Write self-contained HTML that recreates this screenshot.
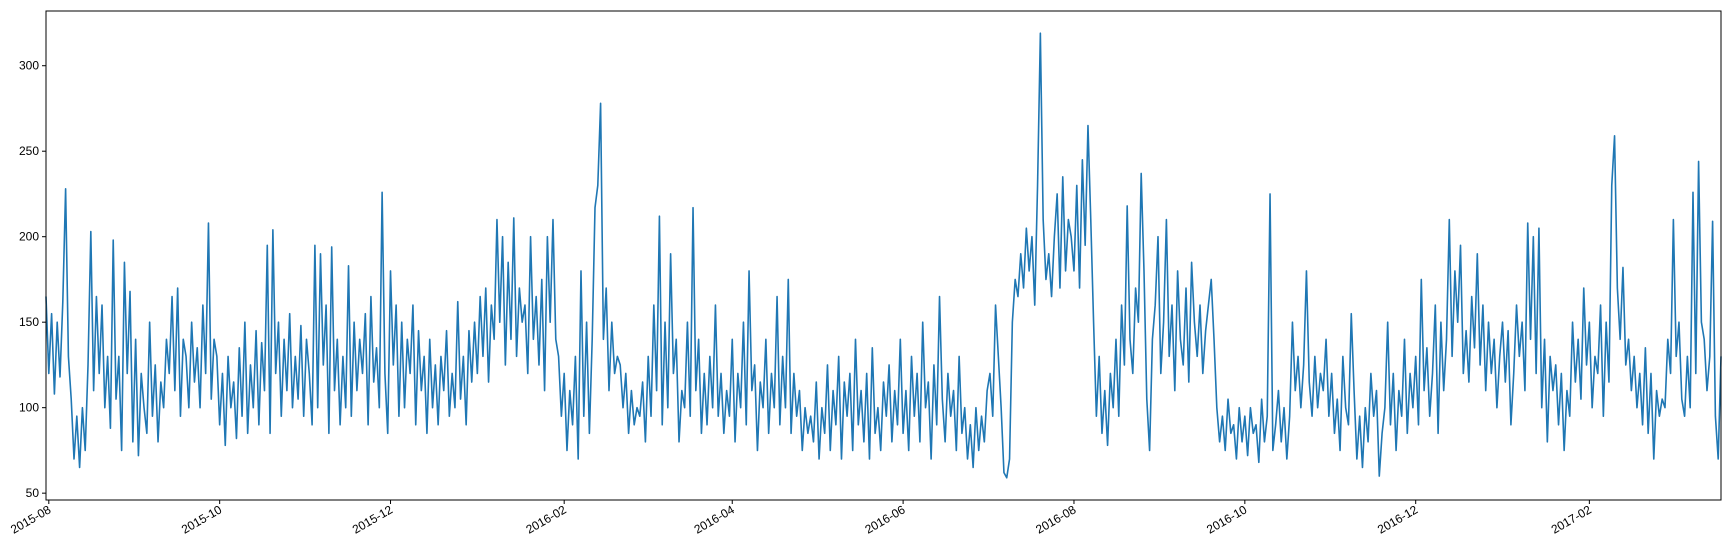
<!DOCTYPE html>
<html><head><meta charset="utf-8"><style>
html,body{margin:0;padding:0;background:#fff;}
svg{display:block;font-family:"Liberation Sans","DejaVu Sans",sans-serif;}
</style></head><body>
<svg id="chart" width="1730" height="544" viewBox="0 0 1730 544"></svg>
<script>
const aug15=[165,120,155,108,150,118,162,228,130,105,70,95,65,100,75,125,203,110,165,120,160,100,130,88,198,105,130,75,185,120,168];
const sep15=[80,140,72,120,100,85,150,95,125,80,115,100,140,120,165,110,170,95,140,130,100,150,115,135,100,160,120,208,105,140];
const oct15=[130,90,120,78,130,100,115,82,135,95,150,85,125,100,145,90,138,110,195,85,204,120,150,95,140,110,155,100,130,105,148];
const nov15=[95,140,120,90,195,100,190,125,160,85,194,110,140,90,130,100,183,95,150,110,140,120,155,90,165,115,135,100,226,120];
const dec15=[85,180,125,160,95,150,100,140,120,160,90,145,110,130,85,140,100,125,90,130,110,145,95,120,100,162,105,130,90,145,115];
const jan16=[150,120,165,130,170,115,160,140,210,150,200,125,185,140,211,130,170,150,160,120,200,140,165,125,175,110,200,150,210,140,130];
const feb16=[95,120,75,110,90,130,70,180,95,150,85,140,217,230,278,140,170,110,150,120,130,125,100,120,85,110,90,100,95];
const mar16=[115,80,130,95,160,110,212,90,150,100,190,120,140,80,110,100,150,95,217,110,140,85,120,90,130,100,160,95,120,85,110];
const apr16=[95,140,80,120,100,150,90,180,110,125,75,115,100,140,85,120,100,165,90,130,100,175,85,120,95,110,75,100,85,95];
const may16=[80,115,70,100,85,125,75,110,90,130,70,115,95,120,75,140,90,110,80,120,70,135,85,100,75,115,95,125,80,110,90];
const jun16=[140,85,110,75,130,95,120,80,150,100,115,70,125,90,165,105,80,120,95,110,75,130,85,100,70,90,65,100,75,95];
const jul16=[80,110,120,95,160,130,100,62,59,70,150,175,165,190,170,205,180,200,160,230,319,210,175,190,165,200,225,170,235,180,210];
const aug16=[200,180,230,170,245,195,265,210,150,95,130,85,110,78,120,100,140,95,160,125,218,140,120,170,150,237,180,105,75,140,160];
const sep16=[200,120,150,210,130,160,110,180,140,125,170,115,185,150,130,160,120,145,160,175,140,100,80,95,75,105,85,90,70,100];
const oct16=[80,95,72,100,85,90,68,105,80,95,225,75,90,110,80,100,70,95,150,110,130,100,125,180,115,95,130,100,120,110,140];
const nov16=[95,120,85,105,75,130,100,90,155,110,70,95,65,100,80,120,95,110,60,85,100,150,90,120,75,110,95,140,85,120];
const dec16=[100,130,90,175,110,135,95,120,160,85,150,110,140,210,130,180,150,195,120,145,115,165,135,190,125,160,110,150,120,140,100];
const jan17=[130,150,115,145,90,120,160,130,150,110,208,140,200,120,205,100,140,80,130,110,125,90,120,75,110,95,150,115,140,105,170];
const feb17=[125,150,100,130,120,160,95,150,115,230,259,170,140,182,125,140,110,130,100,120,90,135,85,120,70,110,95,105];
const mar17=[100,140,120,210,130,150,105,95,130,100,226,120,244,150,140,110,130,209,95,70,130];
const yTicks=[50,100,150,200,250,300];
const xTickLabels=["2015-08","2015-10","2015-12","2016-02","2016-04","2016-06","2016-08","2016-10","2016-12","2017-02"];
const xTickDays=[0,61,122,184,244,305,366,427,488,550];
const startDay=-1;

const NS="http://www.w3.org/2000/svg";
const svg=document.getElementById('chart');
const L=46,R=1721,T=11,B=500;
const values=[].concat(aug15,sep15,oct15,nov15,dec15,jan16,feb16,mar16,apr16,may16,jun16,jul16,aug16,sep16,oct16,nov16,dec16,jan17,feb17,mar17);
const n=values.length;
const dMin=startDay,dMax=startDay+n-1;
const vMin=Math.min(...values),vMax=Math.max(...values);
const pad=(vMax-vMin)*0.05;
const yMin=vMin-pad,yMax=vMax+pad;
function xs(d){return L+(d-dMin)/(dMax-dMin)*(R-L);}
function ys(v){return B-(v-yMin)/(yMax-yMin)*(B-T);}
function mk(tag,attrs){const e=document.createElementNS(NS,tag);for(const k in attrs)e.setAttribute(k,attrs[k]);svg.appendChild(e);return e;}

let d="";
values.forEach((v,i)=>{d+=(i?"L":"M")+xs(startDay+i).toFixed(2)+","+ys(v).toFixed(2);});
const line=mk('path',{d:d,fill:'none',stroke:'#1f77b4','stroke-width':1.6,'stroke-linejoin':'round'});



const frame=mk('rect',{x:L,y:T,width:R-L,height:B-T,fill:'none',stroke:'#000','stroke-width':1});



yTicks.forEach(t=>{
  const y=ys(t);
  const tk=mk('line',{x1:L-4,x2:L,y1:y,y2:y,stroke:'#000','stroke-width':1});
  
  
  const tx=mk('text',{x:L-7,y:y+4,'text-anchor':'end','font-size':12,fill:'#000'});
  tx.textContent=t;
  
  
});
xTickDays.forEach((dd,i)=>{
  const x=xs(dd);
  const tk=mk('line',{x1:x,x2:x,y1:B,y2:B+4,stroke:'#000','stroke-width':1});
  
  
  const tx=mk('text',{x:x+3,y:B+12,'text-anchor':'end','font-size':12,fill:'#000',transform:`rotate(-30 ${x+3} ${B+12})`});
  tx.textContent=xTickLabels[i];
  
  
});
</script>
</body></html>
